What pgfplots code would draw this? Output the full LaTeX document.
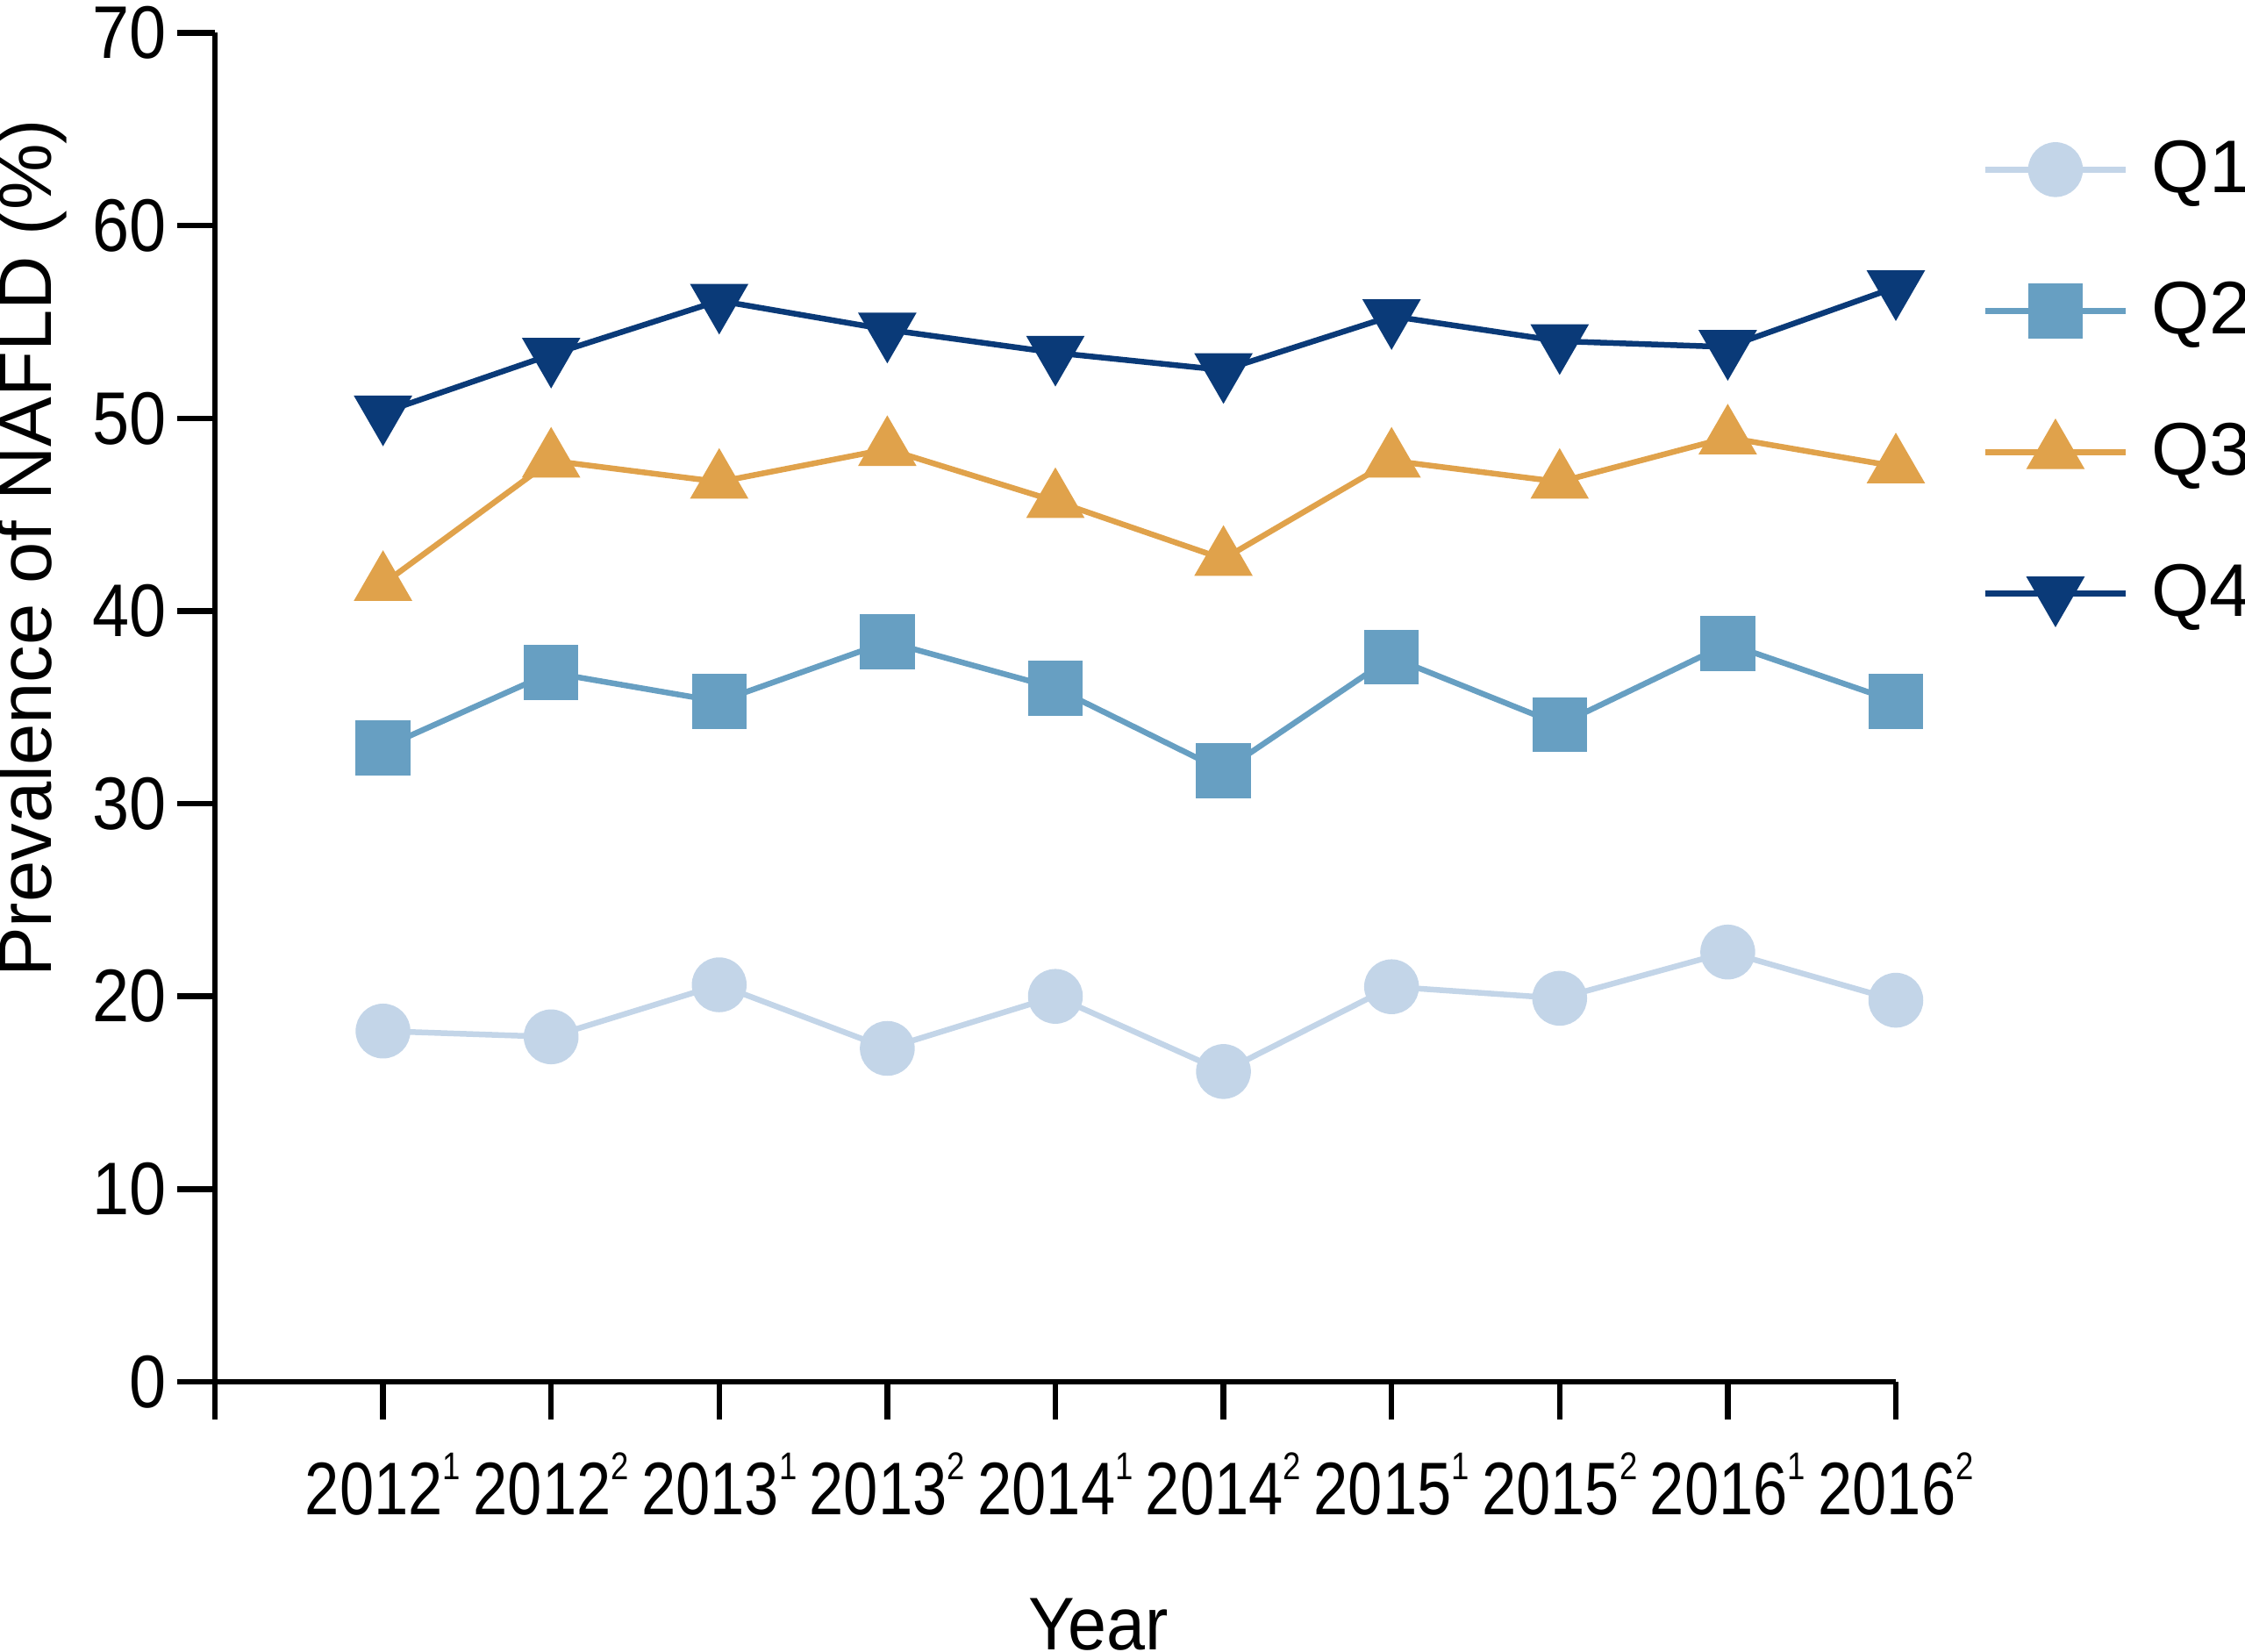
\documentclass[border=0pt]{standalone}
\usepackage{fontspec}
\setmainfont{Liberation Sans}
\usepackage{graphicx}
\usepackage{pgfplots}
\pgfplotsset{compat=1.18}

\definecolor{cQ1}{RGB}{195,213,232}
\definecolor{cQ2}{RGB}{103,159,194}
\definecolor{cQ3}{RGB}{224,162,75}
\definecolor{cQ4}{RGB}{10,58,120}

\newcommand{\yr}[2]{\scalebox{0.83}[1]{#1\raisebox{8pt}{\fontsize{8.8}{9}\selectfont #2}}}
\newcommand{\yt}[1]{\scalebox{0.89}[1]{#1}}

\begin{document}
\begin{tikzpicture}
\begin{axis}[name=ax,
  width=383.2pt, height=307.5pt, scale only axis,
  xmin=0, xmax=10, ymin=0, ymax=70,
  axis x line*=bottom, axis y line*=left,
  axis line style={line width=1.3pt, -},
  tick align=outside, major tick length=8.6pt,
  tick style={line width=1.3pt, black},
  font=\fontsize{17}{20}\selectfont,
  xtick={0,1,2,3,4,5,6,7,8,9,10},
  xticklabels={,\yr{2012}{1},\yr{2012}{2},\yr{2013}{1},\yr{2013}{2},\yr{2014}{1},\yr{2014}{2},\yr{2015}{1},\yr{2015}{2},\yr{2016}{1},\yr{2016}{2}},
  ytick={0,10,20,30,40,50,60,70},
  yticklabels={\yt{0},\yt{10},\yt{20},\yt{30},\yt{40},\yt{50},\yt{60},\yt{70}},
  yticklabel style={anchor=east, inner sep=0pt, xshift=-2.3pt},
  xticklabel style={anchor=base, inner sep=0pt, yshift=-21.8pt},
  ylabel={Prevalence of NAFLD (\%)},
  ylabel style={at={(axis description cs:-0.109,0.618)}, anchor=center, rotate=0},
  xlabel={\scalebox{0.93}[1]{Year}},
  xlabel style={at={(axis description cs:0.5256,0)}, anchor=base, yshift=-61.2pt},
  legend image code/.code={\draw[mark repeat=2,mark phase=2,#1] plot coordinates {(0pt,0pt) (16pt,0pt) (32pt,0pt)};},
  legend style={draw=none, fill=none, at={(axis description cs:1.051,0.7415)}, anchor=west,
    inner sep=0pt, row sep=18.84pt, column sep=5.2pt,
    nodes={anchor=west, inner sep=0pt}, font=\fontsize{17}{20}\selectfont},
  clip=false,
]
\addplot[cQ1, line width=1.3pt, mark=*, mark size=5.6pt, mark options={fill=cQ1, draw=none}]
  coordinates {(1,18.2) (2,17.9) (3,20.6) (4,17.3) (5,20.0) (6,16.1) (7,20.5) (8,19.9) (9,22.3) (10,19.8)};
\addlegendentry{Q1}
\addplot[cQ2, line width=1.3pt, mark=square*, mark size=5.6pt, mark options={fill=cQ2, draw=none}]
  coordinates {(1,32.9) (2,36.8) (3,35.3) (4,38.4) (5,36.0) (6,31.7) (7,37.6) (8,34.1) (9,38.3) (10,35.3)};
\addlegendentry{Q2}
\addplot[cQ3, line width=1.3pt, mark=triangle*, mark size=6.4pt, mark options={fill=cQ3, draw=none}]
  coordinates {(1,41.4) (2,47.8) (3,46.7) (4,48.4) (5,45.7) (6,42.7) (7,47.8) (8,46.7) (9,49.0) (10,47.5)};
\addlegendentry{Q3}
\addplot[cQ4, line width=1.3pt, mark=triangle*, mark size=6.4pt, mark options={fill=cQ4, draw=none, rotate=180}]
  coordinates {(1,50.3) (2,53.3) (3,56.1) (4,54.6) (5,53.4) (6,52.5) (7,55.3) (8,54.0) (9,53.7) (10,56.8)};
\addlegendentry{Q4}
\end{axis}
\pgfresetboundingbox
\path[use as bounding box] (ax.south west) ++(-49pt,-61.6pt) rectangle ++(511.8pt,376.6pt);
\end{tikzpicture}
\end{document}
